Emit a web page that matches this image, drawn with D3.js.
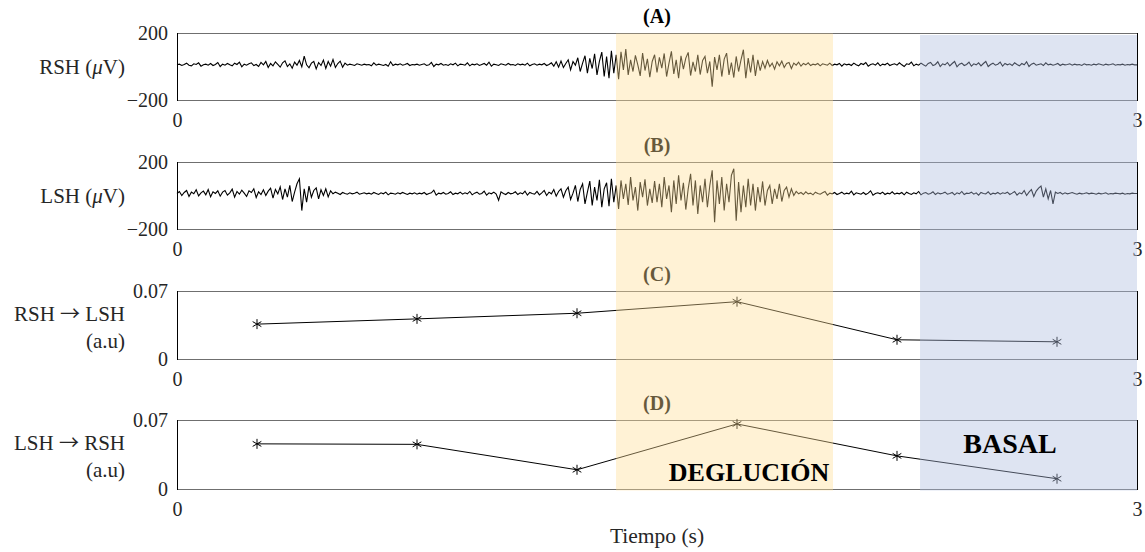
<!DOCTYPE html>
<html lang="en">
<head>
<meta charset="UTF-8">
<title>RSH / LSH - deglucion vs basal</title>
<script src="https://d3js.org/d3.v7.min.js"></script>
<style>
  body { margin: 0; background: #fff; }
  svg { display: block; font-family: "Liberation Serif", "Times New Roman", serif; }
  .frame-h { stroke: #6f6f6f; stroke-width: 1; }
  .frame-v { stroke: #000; stroke-width: 1; }
  .signal { fill: none; stroke: #000; stroke-width: 1.1; }
  .conn { fill: none; stroke: #000; stroke-width: 1; }
  .star { fill: none; stroke: #000; stroke-width: 1; }
</style>
</head>
<body>
<script>
  // EMG samples (uV), one every 3/400 s
  var rsh = [
    10, 14, 6, 12, 20, 8, 4, 16, 12, 22, 2, 10, 14, 8, 18, 6, 12, 24, 0, 14,
    8, 18, 10, 4, 20, 12, 26, -2, 14, 8, 16, 22, 6, 12, 0, 24, 10, 30, -6, 18,
    4, 28, 12, -4, 22, 34, 0, 16, -10, 26, 8, 36, -2, 62, 10, -8, 20, 30, -14, 24,
    6, 38, -12, 30, 2, 42, -6, 18, 32, -4, 20, 8, 14, 10, 6, 16, 12, 8, 14, 10,
    12, 4, 22, 8, 14, 10, 6, 12, 2, 28, 6, 14, 10, 16, 8, 12, 18, 6, 12, 10,
    14, 8, 12, 16, 6, 10, 24, 0, 14, 10, 18, 8, 12, 6, 16, 10, 20, 4, 14, 12,
    8, 22, 4, 14, 10, 16, 6, 12, 18, 8, 26, 2, 14, 10, 6, 16, 12, 8, 18, 10,
    12, 6, 16, 10, 14, 8, 20, 4, 12, 16, 8, 14, 10, 18, 6, 12, 22, 2, 28, -4,
    32, -6, 18, 40, -20, 30, 8, 52, -30, 20, 64, -40, 48, -12, 76, -50, 30, 86, -60, 60,
    -70, 94, -40, 70, -76, 88, -20, 104, -50, 40, -30, 66, 10, -56, 80, -24, 46, -64, 30, 70,
    -36, 54, -10, 78, -60, 20, 90, -44, 40, -70, 64, -16, 50, 84, -54, 28, -30, 70, -48, 36,
    60, -40, 30, -120, 56, -20, 70, -60, 44, 80, -50, 24, -66, 60, -30, 40, 100, -70, 50, -36,
    70, -56, 40, -24, 30, -10, 36, 0, 20, -16, 28, 4, 32, -6, 18, 24, -12, 20, 8, 26,
    2, 18, 10, 22, 6, 14, 10, 18, 4, 16, 12, 8, 20, 6, 14, 10, 18, 2, 16, 10,
    14, 6, 20, 10, 4, 18, 12, 24, 2, 12, 16, 8, 22, 4, 14, 10, 20, 6, 12, 16,
    8, 22, 10, 0, 16, 12, 26, 4, 14, 8, 20, 10, 2, 18, 24, 6, 12, 28, 0, 16,
    10, 24, 4, 18, 30, -2, 14, 20, 6, 12, 26, 2, 16, 10, 22, 4, 18, 30, 0, 12,
    20, 8, 14, 26, 2, 18, 10, 16, 6, 22, 12, 4, 18, 10, 28, 0, 14, 20, 8, 12,
    16, 6, 22, 10, 14, 8, 12, 18, 6, 14, 10, 12, 16, 8, 14, 10, 12, 6, 16, 10,
    12, 8, 14, 10, 16, 12, 8, 14, 10, 12, 16, 8, 12, 10, 14, 8, 12, 10, 14, 10,
    10
  ];
  var lsh = [
    12, 24, 0, 18, 30, -6, 20, 10, 34, -2, 16, 26, 4, 36, -8, 22, 12, 28, -4, 20,
    30, 2, 16, 38, -10, 24, 8, 32, 14, -6, 28, 18, 40, -12, 22, 6, 34, 0, 26, 44,
    -16, 36, 10, 52, -24, 40, -10, 60, -36, 20, 70, 100, -90, 40, -40, 56, -10, 30, 46, -20,
    34, 0, 40, -8, 28, 10, 20, 14, 6, 18, 12, 8, 16, 10, 14, 20, 8, 12, 16, 10,
    14, 8, 18, 12, 6, 16, 10, 20, 4, 14, 12, 8, 16, 10, 18, 12, 6, 14, 10, 16,
    8, 14, 10, 18, 6, 12, 16, 32, 2, 14, 10, 18, 8, 12, 22, 6, 14, 10, 20, 8,
    16, 10, 24, 4, 14, 20, 8, 12, 26, 2, 16, 10, 20, 8, -28, 22, 12, 6, 18, 10,
    14, 22, 6, 16, 10, 26, 2, 18, 12, 8, 24, 4, 16, 30, 0, 20, 10, 36, -4, 24,
    40, -10, 28, 50, -24, 14, 60, -36, 36, 70, -50, 20, 86, -60, 50, -30, 94, -70, 40, 76,
    -64, 100, -40, 60, -80, 90, -20, 70, -56, 110, -30, 50, -90, 80, -10, 96, -60, 40, -44, 86,
    -40, 70, -70, 110, -20, 60, -100, 90, -50, 120, -30, 76, -84, 40, 130, -60, 90, -110, 60, -40,
    100, -70, 60, 150, -160, 90, -50, 110, -90, 70, -40, 120, 160, -150, 80, -100, 60, -70, 100, -60,
    70, -90, 50, -40, 84, -60, 30, 60, -50, 40, -20, 70, -36, 30, 50, -10, 40, 0, 24, 10,
    18, 6, 22, 10, 14, 4, 20, 12, 8, 16, 24, 2, 14, 10, 18, 6, 12, 20, 8, 14,
    10, 26, 4, 16, 12, 8, 18, 6, 14, 28, 2, 12, 16, 10, 20, 6, 14, 10, 22, 8,
    14, 10, 18, 4, 20, 12, 6, 16, 10, 24, 4, 14, 18, 8, 12, 22, 6, 16, 10, 14,
    20, 8, 12, 18, 4, 16, 10, 24, 6, 14, 12, 20, 8, 16, 2, 18, 12, 10, 22, 6,
    14, 10, 18, 8, 16, 12, 20, 6, 14, 24, 2, 16, 10, 30, 0, 20, 36, -6, 26, 44,
    56, -10, 40, -20, 30, -50, 20, 12, 18, 8, 16, 10, 14, 18, 12, 8, 14, 10, 12, 16,
    10, 14, 12, 8, 14, 10, 12, 16, 8, 12, 10, 14, 12, 10, 14, 8, 12, 10, 14, 12,
    12
  ];

  // directed connectivity per 0.5 s window (a.u)
  var winCenters = [0.25, 0.75, 1.25, 1.75, 2.25, 2.75];
  var rshToLsh = [0.0359, 0.0413, 0.0471, 0.0590, 0.0198, 0.0177];
  var lshToRsh = [0.0458, 0.0453, 0.0195, 0.0660, 0.0336, 0.0104];

  var swallowSpan = [1.372, 2.05];
  var basalSpan = [2.322, 3];
  var xTicks = [0, 3];
  var emgTicks = [-200, 200];
  var connTicks = [0, 0.07];

  var W = 1145, H = 552;
  var left = 177, right = 1137;
  var fs = 21;

  var svg = d3.select("body").append("svg")
      .attr("width", W)
      .attr("height", H);

  var x = d3.scaleLinear().domain([0, 3]).range([left, right]);

  // panel boxes: top / bottom in px
  var panels = [
    {title: "(A)", top: 33, bottom: 100, label: [["RSH (", "\u03bc", "V)"]], ticks: emgTicks, fmt: d3.format("d")},
    {title: "(B)", top: 162, bottom: 229, label: [["LSH (", "\u03bc", "V)"]], ticks: emgTicks, fmt: d3.format("d")},
    {title: "(C)", top: 291, bottom: 359, label: [["RSH ", "\u2192", " LSH"], ["(a.u)"]], ticks: connTicks, fmt: function(d) { return d === 0 ? "0" : "0.07"; }},
    {title: "(D)", top: 420, bottom: 489, label: [["LSH ", "\u2192", " RSH"], ["(a.u)"]], ticks: connTicks, fmt: function(d) { return d === 0 ? "0" : "0.07"; }}
  ];

  panels.forEach(function(p) {
    p.y = d3.scaleLinear()
      .domain(d3.extent(p.ticks))
      .range([p.bottom, p.top]);
  });

  function drawFrame(p) {
    var g = svg.append("g");

    // y axis, ticks pointing inward
    var ya = g.append("g")
        .attr("transform", "translate(" + left + ",0)")
        .call(d3.axisLeft(p.y).tickValues(p.ticks).tickFormat(p.fmt)
          .tickSize(-10).tickSizeOuter(0).tickPadding(9));
    ya.select(".domain").remove();
    ya.attr("font-family", null).attr("font-size", 20);
    ya.selectAll("text").attr("fill", "#262626");

    var yr = g.append("g")
        .attr("transform", "translate(" + right + ",0)")
        .call(d3.axisRight(p.y).tickValues(p.ticks).tickFormat("")
          .tickSize(-10).tickSizeOuter(0));
    yr.select(".domain").remove();

    // x axis, labels only at the ends
    var xa = g.append("g")
        .attr("transform", "translate(0," + p.bottom + ")")
        .call(d3.axisBottom(x).tickValues(xTicks).tickFormat(d3.format("d"))
          .tickSize(0).tickPadding(13));
    xa.select(".domain").remove();
    xa.attr("font-family", null).attr("font-size", 20);
    xa.selectAll("text").attr("fill", "#262626");

    g.append("line").attr("class", "frame-h")
      .attr("x1", left).attr("x2", right).attr("y1", p.top + 0.5).attr("y2", p.top + 0.5);
    g.append("line").attr("class", "frame-h")
      .attr("x1", left).attr("x2", right).attr("y1", p.bottom + 0.5).attr("y2", p.bottom + 0.5);
    g.append("line").attr("class", "frame-v")
      .attr("x1", left + 0.5).attr("x2", left + 0.5).attr("y1", p.top).attr("y2", p.bottom + 1);
    g.append("line").attr("class", "frame-v")
      .attr("x1", right + 0.5).attr("x2", right + 0.5).attr("y1", p.top).attr("y2", p.bottom + 1);

    g.append("text")
      .attr("x", (left + right) / 2)
      .attr("y", p.top - 10)
      .attr("text-anchor", "middle")
      .attr("font-weight", "bold")
      .attr("font-size", 20)
      .text(p.title);

    // y label, one or two lines, right aligned; mu in italic, thin wide arrow
    var ly = p.label.length === 1 ? [(p.top + p.bottom) / 2] : [p.top + 23, p.top + 50];
    p.label.forEach(function(parts, i) {
      var t = g.append("text")
        .attr("x", 125)
        .attr("y", ly[i])
        .attr("dy", "0.35em")
        .attr("text-anchor", "end")
        .attr("font-size", fs)
        .attr("fill", "#262626");
      parts.forEach(function(s) {
        var ts = t.append("tspan").text(s);
        if (s === "\u03bc") ts.attr("font-style", "italic");
        if (s === "\u2192") ts.attr("font-family", "Noto Sans CJK JP").attr("font-size", 20);
      });
    });
  }

  panels.forEach(drawFrame);

  // EMG traces
  [rsh, lsh].forEach(function(sig, k) {
    var p = panels[k];
    var line = d3.line()
      .x(function(d, i) { return x(i * 3 / (sig.length - 1)); })
      .y(function(d) { return p.y(d); });
    svg.append("path")
      .datum(sig)
      .attr("class", "signal")
      .attr("d", line);
  });

  // connectivity lines + asterisk markers
  [rshToLsh, lshToRsh].forEach(function(vals, k) {
    var p = panels[k + 2];
    var line = d3.line()
      .x(function(d, i) { return x(winCenters[i]); })
      .y(function(d) { return p.y(d); });
    svg.append("path")
      .datum(vals)
      .attr("class", "conn")
      .attr("d", line);
    svg.append("g").selectAll("path")
      .data(vals)
      .join("path")
      .attr("class", "star")
      .attr("transform", function(d, i) { return "translate(" + x(winCenters[i]) + "," + p.y(d) + ")"; })
      .attr("d", d3.symbol(d3.symbolAsterisk, 70));
  });

  // shaded windows over all panels
  var shadeTop = panels[0].top + 0.5, shadeBottom = panels[3].bottom + 1.5;
  svg.append("rect")
    .attr("x", x(swallowSpan[0])).attr("width", x(swallowSpan[1]) - x(swallowSpan[0]))
    .attr("y", shadeTop).attr("height", shadeBottom - shadeTop)
    .attr("fill", "rgb(255,222,150)").attr("fill-opacity", 0.4);
  svg.append("rect")
    .attr("x", x(basalSpan[0])).attr("width", x(basalSpan[1]) - x(basalSpan[0]))
    .attr("y", shadeTop + 1.5).attr("height", shadeBottom - shadeTop - 1.5)
    .attr("fill", "rgb(172,187,222)").attr("fill-opacity", 0.4);

  svg.append("text")
    .attr("x", 749).attr("y", 472).attr("dy", "0.35em")
    .attr("text-anchor", "middle")
    .attr("font-weight", "bold").attr("font-size", 26)
    .text("DEGLUCI\u00d3N");
  svg.append("text")
    .attr("x", 1010).attr("y", 443).attr("dy", "0.35em")
    .attr("text-anchor", "middle")
    .attr("font-weight", "bold").attr("font-size", 28)
    .text("BASAL");

  svg.append("text")
    .attr("x", 657).attr("y", 535).attr("dy", "0.35em")
    .attr("text-anchor", "middle")
    .attr("font-size", 21.5)
    .attr("fill", "#262626")
    .text("Tiempo (s)");
</script>
</body>
</html>
